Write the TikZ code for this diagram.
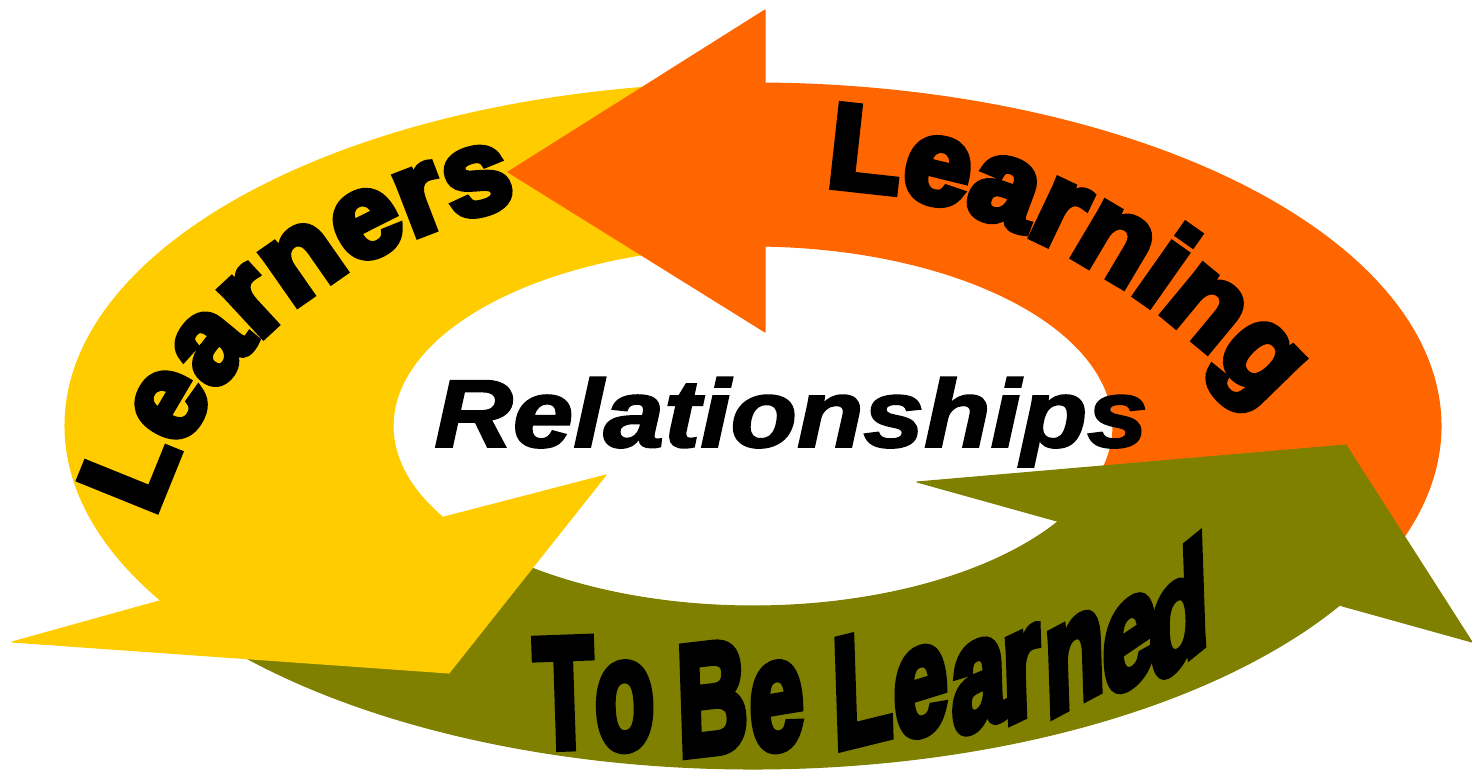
\documentclass[tikz,border=0pt]{standalone}
\usepackage{fontspec}
\setmainfont{Liberation Sans}
\newfontfamily\heavyfont{Liberation Sans}[BoldFeatures={FakeBold=6}]
\newfontfamily\relfont{Liberation Sans}[BoldItalicFeatures={FakeBold=2}]
\usetikzlibrary{decorations.text}
\definecolor{learnorange}{RGB}{255,102,0}
\definecolor{learneryellow}{RGB}{255,204,0}
\definecolor{tbolive}{RGB}{128,128,0}
\newcommand\arcfont{\heavyfont\bfseries\fontsize{34}{34}\selectfont}
\newcommand\tbfont{\heavyfont\bfseries\fontsize{44.5}{44.5}\selectfont}

\begin{document}
\begin{tikzpicture}[
    orangearrow/.style={fill=learnorange, draw=learnorange, line width=0.3pt, line join=round},
    yellowarrow/.style={fill=learneryellow, draw=learneryellow, line width=0.3pt, line join=round},
    olivearrow/.style={fill=tbolive, draw=tbolive, line width=0.3pt, line join=round}]
    \useasboundingbox (0, 0) rectangle (14.72, 7.70);
    \coordinate (ctr) at (7.53, 3.44);
    % bands
    \path[orangearrow] ([shift={(-25:6.88cm and 3.43cm)}]ctr) arc[start angle=-25, end angle=89, x radius=6.88cm, y radius=3.43cm]
        -- ([shift={(88.1:3.6cm and 1.8cm)}]ctr) arc[start angle=88.1, end angle=-20, x radius=3.6cm, y radius=1.8cm] -- cycle;
    \path[yellowarrow] ([shift={(94.4:6.88cm and 3.43cm)}]ctr) arc[start angle=94.4, end angle=210.6, x radius=6.88cm, y radius=3.43cm]
        -- ([shift={(210.5:3.6cm and 1.8cm)}]ctr) arc[start angle=210.5, end angle=98.3, x radius=3.6cm, y radius=1.8cm] -- cycle;
    \path[olivearrow] ([shift={(218:6.88cm and 3.43cm)}]ctr) arc[start angle=218, end angle=328.5, x radius=6.88cm, y radius=3.43cm]
        -- ([shift={(328:3.6cm and 1.8cm)}]ctr) arc[start angle=328, end angle=218, x radius=3.6cm, y radius=1.8cm] -- cycle;
    % heads
    \path[orangearrow] (5.08, 5.98) -- (7.65, 7.60) -- (7.65, 4.38) -- cycle;
    \path[yellowarrow] ([shift={(210.5:3.6cm and 1.8cm)}]ctr) -- (6.06, 2.95) -- (4.49, 0.97) -- (0.12, 1.28)
        -- ([shift={(210.6:6.88cm and 3.43cm)}]ctr) -- cycle;
    \path[olivearrow] ([shift={(328:3.6cm and 1.8cm)}]ctr) -- (9.17, 2.88) -- (13.46, 3.25) -- (14.72, 1.28)
        -- ([shift={(328.5:6.88cm and 3.43cm)}]ctr) -- cycle;
    % texts
    \path[decorate, decoration={text along path, text={|\arcfont|Learning}}]
        (8.25, 5.83) .. controls (9.97, 5.77) and (11.83, 4.76) .. (13.01, 3.14);
    \path[decorate, decoration={text along path, text={|\arcfont|Learners}}]
        (1.545, 2.52) .. controls (2.16, 4.41) and (3.60, 5.34) .. (5.46, 5.73);
    \foreach \ch/\bx/\by/\sl [count=\i] in {T/5.66/0.23/-0.03, o/6.26/0.22/0.0, B/7.14/0.18/0.02, e/7.78/0.22/0.05,
        L/8.64/0.28/0.1, e/9.22/0.37/0.14, a/9.80/0.44/0.19, r/10.23/0.54/0.24, n/10.76/0.67/0.28,
        e/11.31/0.86/0.37, d/11.80/1.06/0.45}
        \node[anchor=base, inner sep=0, xscale=0.62, yslant=\sl, rotate=3] (tbl\i) at (\bx, \by) {\tbfont\ch};
    \node[anchor=base, inner sep=0, xscale=1.13] (rel) at (7.91, 3.23)
        {\relfont\fontsize{27.4}{30}\selectfont\bfseries\itshape Relationships};
\end{tikzpicture}
\end{document}
